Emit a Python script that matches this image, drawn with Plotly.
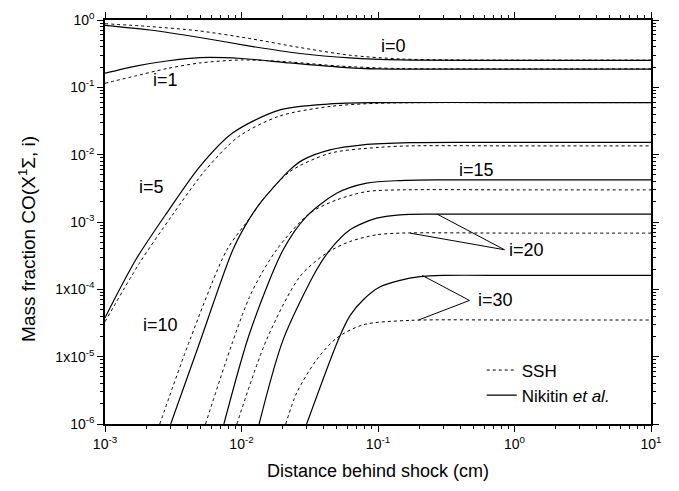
import math
import plotly.graph_objects as go

# ---------------- data ----------------
# Nikitin et al. (solid) and SSH (dotted): mass fraction vs distance behind shock (cm)
nik_i0_x = [1e-3, 2.13e-3, 4.95e-3, 0.0115, 0.0268, 0.0624, 0.145, 1.0, 10]
nik_i0_y = [0.834, 0.71, 0.55, 0.41, 0.318, 0.273, 0.255, 0.252, 0.252]
ssh_i0_x = [1e-3, 2.13e-3, 4.95e-3, 0.0115, 0.0268, 0.0624, 0.145, 0.337, 1.0, 10]
ssh_i0_y = [0.88, 0.80, 0.687, 0.53, 0.39, 0.30, 0.264, 0.256, 0.254, 0.254]

nik_i1_x = [1e-3, 1.68e-3, 2.84e-3, 4.95e-3, 0.01, 0.0226, 0.052, 0.1, 1.0, 10]
nik_i1_y = [0.162, 0.207, 0.246, 0.276, 0.268, 0.23, 0.20, 0.1875, 0.187, 0.187]
ssh_i1_x = [1e-3, 1.68e-3, 2.84e-3, 4.95e-3, 0.01, 0.0226, 0.052, 0.145, 1.0, 10]
ssh_i1_y = [0.115, 0.148, 0.19, 0.23, 0.255, 0.238, 0.207, 0.19, 0.188, 0.188]

nik_i5_x = [1e-3, 1.68e-3, 2.84e-3, 4.95e-3, 8.65e-3, 0.0191, 0.0445, 0.1, 1.0, 10]
nik_i5_y = [3.79e-5, 2.75e-4, 1.37e-3, 6.66e-3, 0.0211, 0.0462, 0.0567, 0.0593, 0.0593, 0.0593]
ssh_i5_x = [1e-3, 1.8e-3, 3.1e-3, 5.4e-3, 9.5e-3, 0.0191, 0.0445, 0.1, 1.0, 10]
ssh_i5_y = [3.3e-5, 2.5e-4, 1.25e-3, 5.8e-3, 0.0185, 0.0376, 0.052, 0.058, 0.0593, 0.0593]

nik_i10_x = [3.03e-3, 4.95e-3, 8.65e-3, 0.0115, 0.0143, 0.0226, 0.0282, 0.0445, 0.0776, 0.172, 1.0, 10]
nik_i10_y = [1e-6, 1.64e-5, 3.87e-4, 1.14e-3, 2.13e-3, 5.95e-3, 8.37e-3, 0.0118, 0.014, 0.0151, 0.0152, 0.0152]
ssh_i10_x = [2.52e-3, 4.2e-3, 7.82e-3, 0.0115, 0.0143, 0.0226, 0.0445, 0.1, 0.172, 1.0, 10]
ssh_i10_y = [1e-6, 1.8e-5, 3.87e-4, 1.14e-3, 2.13e-3, 5.6e-3, 0.0105, 0.0128, 0.0135, 0.0135, 0.0135]

nik_i15_x = [7.43e-3, 0.0115, 0.0202, 0.030, 0.0498, 0.0826, 0.145, 0.3, 1.0, 10]
nik_i15_y = [1e-6, 2.27e-5, 3.87e-4, 1.21e-3, 2.68e-3, 3.78e-3, 4.13e-3, 4.22e-3, 4.23e-3, 4.23e-3]
ssh_i15_x = [5.45e-3, 0.0115, 0.01807, 0.0317, 0.0498, 0.0826, 0.145, 1.0, 10]
ssh_i15_y = [1e-6, 7.85e-5, 3.87e-4, 1.355e-3, 2.13e-3, 2.83e-3, 3.0e-3, 3.0e-3, 3.0e-3]

nik_i20_x = [0.01346, 0.0202, 0.0355, 0.0445, 0.0624, 0.0977, 0.145, 0.25, 1.0, 10]
nik_i20_y = [1e-6, 1.79e-5, 1.95e-4, 3.87e-4, 7.66e-4, 1.14e-3, 1.28e-3, 1.31e-3, 1.31e-3, 1.31e-3]
ssh_i20_x = [9.25e-3, 0.01527, 0.0268, 0.042, 0.0624, 0.0977, 0.145, 1.0, 10]
ssh_i20_y = [1e-6, 1.79e-5, 1.55e-4, 3.46e-4, 5.14e-4, 6.46e-4, 6.84e-4, 6.84e-4, 6.84e-4]

nik_i30_x = [0.030, 0.0512, 0.0624, 0.078, 0.1037, 0.145, 0.203, 0.3, 1.0, 10]
nik_i30_y = [1e-6, 1.79e-5, 4.06e-5, 7.0e-5, 1.09e-4, 1.36e-4, 1.54e-4, 1.61e-4, 1.61e-4, 1.61e-4]
ssh_i30_x = [0.0211, 0.02535, 0.0355, 0.0498, 0.078, 0.172, 1.0, 10]
ssh_i30_y = [1e-6, 2.89e-6, 9.0e-6, 1.89e-5, 2.98e-5, 3.46e-5, 3.5e-5, 3.5e-5]

# curve labels: (text, x, y, xanchor)
curve_labels = [("i=0", 0.129, 0.411, "center"), ("i=1", 2.79e-3, 0.129, "center"),
                ("i=5", 2.2e-3, 3.33e-3, "center"), ("i=10", 2.56e-3, 2.99e-5, "center"),
                ("i=15", 0.524, 5.94e-3, "center"),
                ("i=20", 0.885, 3.87e-4, "left"), ("i=30", 0.52, 7.0e-5, "left")]
# leader lines: (x0, y0, x1, y1)
leaders = [(0.271, 1.31e-3, 0.845, 3.87e-4), (0.172, 6.84e-4, 0.845, 3.87e-4),
           (0.211, 1.61e-4, 0.468, 6.84e-5), (0.198, 3.5e-5, 0.468, 6.84e-5)]

x_tickvals = [1e-3, 1e-2, 1e-1, 1e0, 1e1]
x_ticktext = ["10<sup>-3</sup>", "10<sup>-2</sup>", "10<sup>-1</sup>", "10<sup>0</sup>", "10<sup>1</sup>"]
y_tickvals = [1e-6, 1e-5, 1e-4, 1e-3, 1e-2, 1e-1, 1e0]
y_ticktext = ["10<sup>-6</sup>", "1x10<sup>-5</sup>", "1x10<sup>-4</sup>", "10<sup>-3</sup>",
              "10<sup>-2</sup>", "10<sup>-1</sup>", "10<sup>0</sup>"]

# ---------------- figure ----------------
FONT = "Liberation Sans, Arial, sans-serif"
fig = go.Figure()

nik = [(nik_i0_x, nik_i0_y), (nik_i1_x, nik_i1_y), (nik_i5_x, nik_i5_y), (nik_i10_x, nik_i10_y),
       (nik_i15_x, nik_i15_y), (nik_i20_x, nik_i20_y), (nik_i30_x, nik_i30_y)]
ssh = [(ssh_i0_x, ssh_i0_y), (ssh_i1_x, ssh_i1_y), (ssh_i5_x, ssh_i5_y), (ssh_i10_x, ssh_i10_y),
       (ssh_i15_x, ssh_i15_y), (ssh_i20_x, ssh_i20_y), (ssh_i30_x, ssh_i30_y)]

for k, (xs, ys) in enumerate(ssh):
    fig.add_trace(go.Scatter(x=xs, y=ys, mode="lines", name="SSH", legendgroup="ssh",
                             showlegend=(k == 0),
                             line=dict(color="black", width=1, dash="dot", shape="spline", smoothing=0.8)))
for k, (xs, ys) in enumerate(nik):
    fig.add_trace(go.Scatter(x=xs, y=ys, mode="lines", name="Nikitin <i>et al.</i>", legendgroup="nik",
                             showlegend=(k == 0),
                             line=dict(color="black", width=1.2, shape="spline", smoothing=0.8)))

for (x0, y0, x1, y1) in leaders:
    fig.add_trace(go.Scatter(x=[x0, x1], y=[y0, y1], mode="lines", showlegend=False,
                             hoverinfo="skip", line=dict(color="black", width=1)))

# annotations on log axes take log10 positions
for (t, x, y, xa) in curve_labels:
    fig.add_annotation(x=math.log10(x), y=math.log10(y), xref="x", yref="y", text=t,
                       showarrow=False, xanchor=xa, yanchor="middle",
                       font=dict(family=FONT, size=18, color="black"))

fig.add_annotation(x=-0.143, y=0.458, xref="paper", yref="paper", textangle=-90,
                   xanchor="center", yanchor="middle",
                   text="Mass fraction CO(X<sup>1</sup>Σ, i)", showarrow=False,
                   font=dict(family=FONT, size=19, color="black"))

axis_common = dict(type="log", showgrid=False, zeroline=False, showline=True, linecolor="black",
                   linewidth=1.5, mirror="allticks", ticks="outside", ticklen=6, tickwidth=1.2,
                   tickcolor="black", tickfont=dict(family=FONT, size=14, color="black"),
                   automargin=False,
                   minor=dict(ticks="outside", ticklen=3, tickwidth=1, tickcolor="black", dtick="D1",
                              showgrid=False))

fig.update_xaxes(**axis_common, range=[-3, 1], tickvals=x_tickvals, ticktext=x_ticktext,
                 title=dict(text="Distance behind shock (cm)", standoff=14,
                            font=dict(family=FONT, size=18, color="black")))
fig.update_yaxes(**axis_common, range=[-6, 0], tickvals=y_tickvals, ticktext=y_ticktext)

fig.update_layout(width=679, height=491, margin=dict(l=105, r=28, t=20, b=67, autoexpand=False),
                  paper_bgcolor="white", plot_bgcolor="white",
                  legend=dict(x=0.69, y=0.177, xanchor="left", yanchor="top", bgcolor="rgba(0,0,0,0)",
                              font=dict(family=FONT, size=17, color="black"), tracegroupgap=0),
                  font=dict(family=FONT, color="black"))

# remove the browser's default body margin so the figure sits at the page origin
fig.write_html("out.html", config={"displayModeBar": False},
               post_script="document.body.style.margin='0px';")
